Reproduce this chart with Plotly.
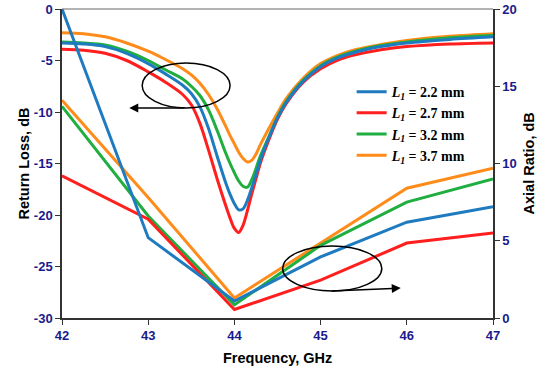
import plotly.graph_objects as go

# ---------------- data ----------------
labels = ["2.2 mm", "2.7 mm", "3.2 mm", "3.7 mm"]
colors = ["#1f7bbf", "#ff1f1f", "#1fae3f", "#ff8c1a"]

freq_rl = [42, 42.25, 42.5, 42.75, 43.0, 43.2, 43.4, 43.5, 43.6, 43.7, 43.8, 43.9, 43.95,
           44.0, 44.05, 44.1, 44.15, 44.2, 44.25, 44.3, 44.4, 44.5, 44.6, 44.8, 45.0,
           45.2, 45.4, 45.7, 46.0, 46.5, 47.0]

rl_22 = [-3.3, -3.4, -3.65, -4.3, -5.3, -6.3, -7.4, -8.2, -9.5, -11.6, -14.3, -16.9, -18.0,
         -18.9, -19.5, -19.4, -18.6, -17.4, -16.1, -14.7, -12.5, -10.6, -9.1, -7.0, -5.6,
         -4.75, -4.2, -3.65, -3.3, -2.95, -2.7]
rl_27 = [-3.9, -4.0, -4.3, -5.0, -6.1, -7.1, -8.3, -9.3, -11.1, -13.7, -16.5, -19.1, -20.3,
         -21.3, -21.7, -21.0, -19.6, -18.0, -16.5, -15.0, -12.7, -10.7, -9.2, -7.1, -5.8,
         -4.95, -4.45, -3.95, -3.65, -3.4, -3.3]
rl_32 = [-3.2, -3.3, -3.5, -4.1, -5.0, -5.9, -6.8, -7.5, -8.4, -9.8, -11.8, -14.0, -15.0,
         -15.9, -16.7, -17.2, -17.3, -16.6, -15.5, -14.3, -12.4, -10.5, -9.0, -6.9, -5.5,
         -4.65, -4.1, -3.55, -3.2, -2.8, -2.55]
rl_37 = [-2.3, -2.4, -2.7, -3.3, -4.1, -4.9, -5.8, -6.4, -7.2, -8.3, -9.7, -11.4, -12.3,
         -13.1, -13.9, -14.5, -14.85, -14.7, -14.1, -13.2, -11.6, -10.1, -8.7, -6.7, -5.3,
         -4.5, -3.95, -3.45, -3.05, -2.65, -2.4]

freq_ar = [42, 43, 44, 45, 46, 47]
ar_22 = [20.0, 5.2, 1.1, 3.95, 6.2, 7.2]
ar_27 = [9.2, 6.4, 0.55, 2.45, 4.85, 5.5]
ar_32 = [13.7, 6.6, 0.85, 4.7, 7.5, 9.0]
ar_37 = [14.1, 7.8, 1.3, 4.85, 8.4, 9.7]

rl_series = [rl_22, rl_27, rl_32, rl_37]
ar_series = [ar_22, ar_27, ar_32, ar_37]

x_ticks = [42, 43, 44, 45, 46, 47]
y_ticks = [-30, -25, -20, -15, -10, -5, 0]
y_ticktext = ["-30", "-25", "-20", "-15", "-10", "-5", "0"]
y2_ticks = [0, 5, 10, 15, 20]

# ---------------- figure ----------------
fig = go.Figure()
draw_order = [3, 2, 1, 0]
for i in draw_order:
    fig.add_trace(go.Scatter(
        x=freq_ar, y=ar_series[i], yaxis="y2", mode="lines",
        line=dict(color=colors[i], width=3), showlegend=False,
        legendgroup=labels[i], hoverinfo="skip"))
for i in draw_order:
    fig.add_trace(go.Scatter(
        x=freq_rl, y=rl_series[i], mode="lines",
        line=dict(color=colors[i], width=3, shape="spline", smoothing=0.9),
        name="<i>L</i><sub><i>1</i></sub> = " + labels[i],
        legendgroup=labels[i], legendrank=i + 1))

tick_font = dict(family="Liberation Sans, Arial", size=13, color="#1a1a8c", weight="bold")
axis_col = "#333333"

fig.update_layout(
    width=550, height=379,
    margin=dict(l=62, r=57, t=9, b=61, autoexpand=False),
    paper_bgcolor="white", plot_bgcolor="white",
    showlegend=True,
    legend=dict(x=0.672, y=0.783, xanchor="left", yanchor="top",
                font=dict(family="Liberation Serif, Times New Roman", size=14,
                          color="black", weight="bold"),
                bgcolor="rgba(0,0,0,0)", tracegroupgap=0, itemwidth=30),
    xaxis=dict(range=[42, 47], tickvals=x_ticks, ticks="outside", ticklen=5,
               tickcolor=axis_col, showline=True, linecolor=axis_col, linewidth=1.5,
               mirror=False, showgrid=False, zeroline=False, tickfont=tick_font,
               automargin=False, ticklabeloverflow="allow"),
    yaxis=dict(range=[-30, 0], tickvals=y_ticks, ticktext=y_ticktext, ticks="outside",
               ticklen=5, tickcolor=axis_col, showline=True, linecolor=axis_col,
               linewidth=1.5, showgrid=False, zeroline=False, tickfont=tick_font,
               automargin=False, ticklabeloverflow="allow"),
    yaxis2=dict(range=[0, 20], tickvals=y2_ticks, overlaying="y", side="right",
                ticks="outside", ticklen=5, tickcolor=axis_col, showline=True,
                linecolor=axis_col, linewidth=1.5, showgrid=False, zeroline=False,
                tickfont=tick_font, automargin=False, ticklabeloverflow="allow"),
)

# top frame line
fig.add_shape(type="line", xref="paper", yref="paper", x0=0, x1=1, y0=1, y1=1,
              line=dict(color="#666666", width=1))

# ellipses
fig.add_shape(type="circle", xref="x", yref="y", x0=42.93, x1=43.95, y0=-9.61, y1=-5.24,
              line=dict(color="black", width=1.5))
fig.add_shape(type="circle", xref="x", yref="y2", x0=44.56, x1=45.71, y0=1.75, y1=4.66,
              line=dict(color="black", width=1.5))

# arrows
fig.add_annotation(x=42.78, y=-9.61, ax=43.44, ay=-9.61, xref="x", yref="y",
                   axref="x", ayref="y", text="", showarrow=True, arrowhead=2,
                   arrowsize=1.2, arrowwidth=1.5, arrowcolor="black")
fig.add_annotation(x=45.93, y=1.94, ax=45.11, ay=1.75, xref="x", yref="y2",
                   axref="x", ayref="y2", text="", showarrow=True, arrowhead=2,
                   arrowsize=1.2, arrowwidth=1.5, arrowcolor="black")

title_font = dict(family="Liberation Sans, Arial", size=14.5, color="black")
fig.add_annotation(text="<b>Return Loss, dB</b>", xref="paper", yref="paper", x=0, y=0.5,
                   xshift=-49, textangle=-90, showarrow=False, font=title_font)
fig.add_annotation(text="<b>Axial Ratio, dB</b>", xref="paper", yref="paper", x=1, y=0.5,
                   xshift=45, textangle=-90, showarrow=False, font=title_font)
fig.add_annotation(text="<b>Frequency, GHz</b>", xref="paper", yref="paper", x=0.5, y=0,
                   yshift=-50, showarrow=False, font=title_font)

# remove the default 8px page margin so the figure sits at the window origin
fig.write_html("out.html", config={"displayModeBar": False},
               post_script="document.body.style.margin='0';")
